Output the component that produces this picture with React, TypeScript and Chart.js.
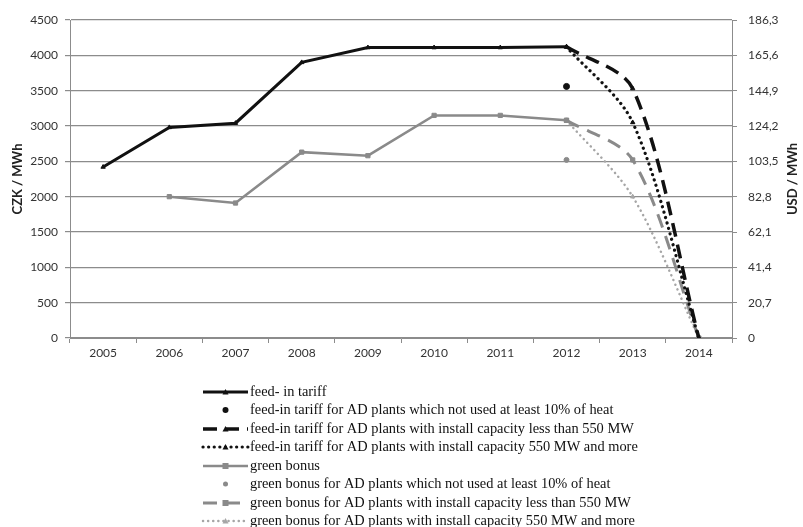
import React, { useEffect, useRef } from "react";
import { Chart, registerables } from "chart.js";

Chart.register(...registerables);

const years = ["2005", "2006", "2007", "2008", "2009", "2010", "2011", "2012", "2013", "2014"];
const czkTicks = [0, 500, 1000, 1500, 2000, 2500, 3000, 3500, 4000, 4500];
const usdTicks = [0, 20.7, 41.4, 62.1, 82.8, 103.5, 124.2, 144.9, 165.6, 186.3];

const feedIn = [2420, 2980, 3040, 3900, 4110, 4110, 4110, 4120, null, null];
const feedInNoHeat = [null, null, null, null, null, null, null, 3560, null, null];
const feedInLess550 = [null, null, null, null, null, null, null, 4120, 3530, 0];
const feedInMore550 = [null, null, null, null, null, null, null, 4120, 3050, 0];
const green = [null, 2000, 1910, 2630, 2580, 3150, 3150, 3080, null, null];
const greenNoHeat = [null, null, null, null, null, null, null, 2520, null, null];
const greenLess550 = [null, null, null, null, null, null, null, 3080, 2520, 0];
const greenMore550 = [null, null, null, null, null, null, null, 3080, 2000, 0];

const labels = [
  "feed- in tariff",
  "feed-in tariff for AD plants which not used at least 10% of heat",
  "feed-in tariff for AD plants with install capacity less than 550 MW",
  "feed-in tariff for AD plants with install capacity 550 MW and more",
  "green bonus",
  "green bonus for AD plants which not used at least 10% of heat",
  "green bonus for AD plants with install capacity less than 550 MW",
  "green bonus for AD plants with install capacity 550 MW and more",
];

const TICK_FONT = { family: "Lato, 'Liberation Sans', sans-serif", size: 12 };

export default function App() {
  const ref = useRef<HTMLCanvasElement | null>(null);

  useEffect(() => {
    if (!ref.current) return;
    const black = "#111111";
    const grey = "#8a8a8a";
    const lightGrey = "#a6a6a6";
    const mk = (
      label: string,
      data: (number | null)[],
      color: string,
      width: number,
      dash: number[],
      pointStyle: string,
      radius: number,
      showLine: boolean,
      tension: number
    ) => ({
      label,
      data,
      borderColor: color,
      backgroundColor: color,
      borderWidth: width,
      borderDash: dash,
      borderCapStyle: dash.length && dash[0] <= 3 ? "round" : "butt",
      pointStyle,
      pointRadius: radius,
      pointBorderWidth: 1,
      pointHoverRadius: radius,
      showLine,
      spanGaps: false,
      tension,
      yAxisID: "y",
    });

    const datasets: any[] = [
      mk(labels[0], feedIn, black, 3, [], "triangle", 2.5, true, 0),
      mk(labels[1], feedInNoHeat, black, 3, [], "circle", 3, false, 0),
      mk(labels[2], feedInLess550, black, 3.5, [14, 8], "triangle", 2.5, true, 0.3),
      mk(labels[3], feedInMore550, black, 3.2, [0.1, 5.5], "triangle", 2.5, true, 0.3),
      mk(labels[4], green, grey, 2.5, [], "rect", 3, true, 0),
      mk(labels[5], greenNoHeat, grey, 2.5, [], "circle", 2.5, false, 0),
      mk(labels[6], greenLess550, grey, 3, [14, 9], "rect", 3, true, 0.3),
      mk(labels[7], greenMore550, lightGrey, 2.5, [0.1, 5], "triangle", 2.5, true, 0.3),
    ];

    const overlay = {
      id: "overlay",
      afterDraw(chart: any) {
        const ctx = chart.ctx;
        const ca = chart.chartArea;
        ctx.save();
        ctx.fillStyle = "#222";
        ctx.font = "bold 13px Lato, 'Liberation Sans', sans-serif";
        ctx.textAlign = "center";
        ctx.textBaseline = "middle";
        const cy = (ca.top + ca.bottom) / 2;
        ctx.save();
        ctx.translate(18, cy);
        ctx.rotate(-Math.PI / 2);
        ctx.fillText("CZK / MWh", 0, 0);
        ctx.restore();
        ctx.save();
        ctx.translate(793, cy);
        ctx.rotate(-Math.PI / 2);
        ctx.fillText("USD / MWh", 0, 0);
        ctx.restore();

        // legend
        const x0 = 203, x1 = 248, tx = 250;
        const ys = [392, 410, 429, 447, 466, 484, 503, 521];
        ctx.font = "14.4px 'Liberation Serif', 'Times New Roman', serif";
        ctx.textAlign = "left";
        ctx.textBaseline = "middle";
        chart.data.datasets.forEach((ds: any, i: number) => {
          const y = ys[i];
          if (ds.showLine) {
            ctx.save();
            ctx.strokeStyle = ds.borderColor;
            ctx.lineWidth = ds.borderWidth;
            ctx.setLineDash(ds.borderDash || []);
            ctx.lineCap = ds.borderCapStyle || "butt";
            ctx.beginPath();
            ctx.moveTo(x0, y);
            ctx.lineTo(x1, y);
            ctx.stroke();
            ctx.restore();
          }
          const xm = (x0 + x1) / 2;
          ctx.save();
          ctx.fillStyle = ds.backgroundColor;
          const r = ds.pointRadius;
          if (ds.pointStyle === "circle") {
            ctx.beginPath();
            ctx.arc(xm, y, r, 0, Math.PI * 2);
            ctx.fill();
          } else if (ds.pointStyle === "rect") {
            ctx.fillRect(xm - r, y - r, 2 * r, 2 * r);
          } else {
            ctx.beginPath();
            ctx.moveTo(xm, y - r - 0.5);
            ctx.lineTo(xm + r + 0.5, y + r);
            ctx.lineTo(xm - r - 0.5, y + r);
            ctx.closePath();
            ctx.fill();
          }
          ctx.restore();
          ctx.fillStyle = "#111";
          ctx.fillText(ds.label, tx, y);
        });
        ctx.restore();
      },
    };

    const chart = new Chart(ref.current, {
      type: "line",
      data: { labels: years, datasets },
      options: {
        animation: false,
        responsive: true,
        maintainAspectRatio: false,
        layout: { padding: { top: 20, bottom: 159, left: 0, right: 0 } },
        plugins: { legend: { display: false }, tooltip: { enabled: false } },
        scales: {
          x: {
            type: "category",
            offset: true,
            grid: {
              offset: true,
              drawOnChartArea: false,
              drawTicks: true,
              tickLength: 5,
              color: "#8c8c8c",
            },
            border: { display: true, color: "#8c8c8c", width: 1 },
            ticks: { font: TICK_FONT, color: "#333", padding: 3, maxRotation: 0, autoSkip: false },
            afterFit: (s: any) => {
              s.height = 30;
            },
          },
          y: {
            position: "left",
            min: 0,
            max: 4500,
            afterBuildTicks: (s: any) => {
              s.ticks = czkTicks.map((v) => ({ value: v }));
            },
            ticks: { font: TICK_FONT, color: "#333", padding: 7, callback: (v: any) => String(v) },
            grid: { color: "#8c8c8c", lineWidth: 1.2, tickLength: 5 },
            border: { display: true, color: "#8c8c8c", width: 1 },
            afterFit: (s: any) => {
              s.width = 70;
            },
          },
          y2: {
            position: "right",
            min: 0,
            max: 186.3,
            afterBuildTicks: (s: any) => {
              s.ticks = usdTicks.map((v) => ({ value: v }));
            },
            ticks: {
              font: TICK_FONT,
              color: "#333",
              padding: 11,
              callback: (v: any) => (v === 0 ? "0" : Number(v).toFixed(1).replace(".", ",")),
            },
            grid: { drawOnChartArea: false, color: "#8c8c8c", tickLength: 5 },
            border: { display: true, color: "#8c8c8c", width: 1 },
            afterFit: (s: any) => {
              s.width = 71;
            },
          },
        },
      } as any,
      plugins: [overlay],
    });
    return () => chart.destroy();
  }, []);

  return (
    <div style={{ position: "absolute", left: 0, top: 0, width: 803, height: 527, background: "#fff" }}>
      <canvas ref={ref} />
    </div>
  );
}
